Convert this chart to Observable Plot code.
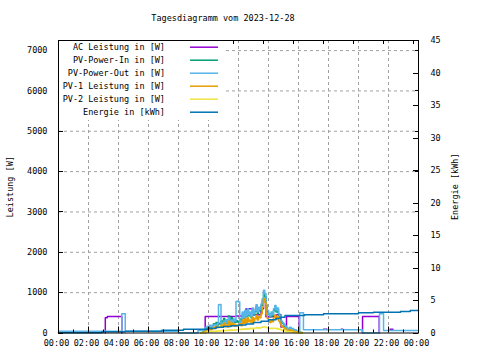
<!DOCTYPE html>
<html><head><meta charset="utf-8">
<script src="https://cdn.jsdelivr.net/npm/d3@7"></script>
<script src="https://cdn.jsdelivr.net/npm/@observablehq/plot@0.6"></script>
<style>
body{margin:0;background:#fff;}
#wrap{position:relative;width:480px;height:360px;font-family:"DejaVu Sans Mono",monospace;font-size:8.5px;color:#000;}
#title{position:absolute;left:0;width:446px;top:13px;line-height:10px;text-align:center;}
#legend{position:absolute;left:0;top:0;}
#chart{position:absolute;left:0;top:0;}
</style>
</head><body>
<div id="wrap"><div id="chart"></div><div id="title"></div><svg id="legend" width="480" height="130"></svg></div>
<script>
const titleText = "Tagesdiagramm vom 2023-12-28";
const seriesNames = ["AC Leistung in [W]","PV-Power-In in [W]","PV-Power-Out in [W]","PV-1 Leistung in [W]","PV-2 Leistung in [W]","Energie in [kWh]"];
const seriesColors = ["#9400d3","#009e73","#56b4e9","#e69f00","#f0e442","#0072b2"];
const yLabel = "Leistung [W]";
const y2Label = "Energie [kWh]";

const xTicks = [0,2,4,6,8,10,12,14,16,18,20,22,24];
const xLabels = ["00:00","02:00","04:00","06:00","08:00","10:00","12:00","14:00","16:00","18:00","20:00","22:00","00:00"];
const wTicks = [0,1000,2000,3000,4000,5000,6000,7000];
const kwhTicks = [0,5,10,15,20,25,30,35,40,45];
const wMax = 7250;
const kwhMax = 45;

// AC Leistung (NaN = no data)
const acTime = [3.12,3.12,3.25,4.22,4.22,4.23, 9.78,9.78,11.83,12.5,13.0,13.5,13.67,13.83,14.5,14.83,15.2,16.05,16.05,16.06, 17.67,17.9,17.91, 18.85,18.95,18.96, 20.27,20.27,21.38,21.38,21.39, 22.1,22.3,22.31];
const acW    = [0,380,410,410,0,NaN, 0,410,420,600,450,600,800,400,450,150,410,410,0,NaN, 90,90,NaN, 90,90,NaN, 0,410,410,0,NaN, 90,90,NaN];

// solar period, 5-minute samples from 09:30 to 16:15
const solarStart = 9.5;
const pvIn = [0,20,40,80,110,140,
 130,170,140,180,230,190,260,200,240,220,300,240,
 360,250,300,240,420,300,380,280,330,260,310,270,
 290,350,280,480,360,520,400,560,430,480,380,580,
 450,540,650,480,600,550,680,800,970,900,650,520,
 450,400,480,420,560,640,520,580,450,390,280,240,
 200,160,130,110,90,130,80,100,60,70,50,40,
 30,20,10,0];
const pvOutSolar = [60,70,80,120,150,170,
 160,190,150,200,180,210,190,230,700,706,230,250,
 300,220,330,260,380,280,320,250,350,300,780,790,
 770,250,300,520,380,560,420,600,450,520,400,620,
 480,560,700,520,640,580,720,850,1060,980,700,560,
 480,420,520,450,600,680,560,620,480,420,300,260,
 220,180,140,120,100,140,90,110,70,80,60,50,
 40,500,500,500];
const pv1 = [0,10,20,40,60,80,
 70,100,80,110,150,120,170,130,150,140,200,150,
 250,160,200,150,290,190,250,180,220,170,200,180,
 190,230,180,320,240,350,260,380,280,320,250,390,
 300,360,440,320,400,380,480,640,850,760,480,360,
 300,260,320,280,380,440,350,400,300,250,180,150,
 130,100,80,70,60,80,50,60,40,40,30,20,
 15,10,0,0];
const pv2 = [0,5,10,15,20,25,
 30,35,30,40,45,40,50,45,55,50,60,55,
 65,55,70,60,75,65,80,70,75,70,80,75,
 85,90,80,100,90,105,95,110,100,115,105,120,
 110,125,135,120,130,125,140,145,155,150,135,125,
 120,110,120,110,115,120,105,110,95,90,75,65,
 55,50,40,35,30,30,25,20,15,15,10,5,
 0,0,0,0];
// PV-Power-Out outside the solar period
const pvOutBeforeTime = [0,4.22,4.45,8.0,9.3];
const pvOutBeforeW    = [45,476,45,0,60];
const pvOutAfterTime  = [16.33,20.25,21.4,21.67,24];
const pvOutAfterW     = [80,0,476,62,62];

// Energie (kWh)
const eTime = [0,2.9,4.45,6.9,8.33,10.0,10.5,11.0,11.5,12.0,12.5,13.0,13.5,14.0,14.5,14.8,15.1,16.4,17.67,20.0,21.0,22.8,23.45,24];
const eKWh  = [0.03,0.18,0.28,0.43,0.58,0.7,0.9,1.0,1.1,1.25,1.4,1.6,1.8,2.03,2.25,2.43,2.69,2.8,2.95,3.11,3.2,3.31,3.46,3.46];

const k = wMax / kwhMax;
const solarTime = pvIn.map((_, i) => solarStart + i / 12);
const pvOutTime = [...pvOutBeforeTime, ...solarTime, ...pvOutAfterTime];
const pvOutW = [...pvOutBeforeW, ...pvOutSolar, ...pvOutAfterW];
const eW = eKWh.map(v => v * k);

const font = {fontFamily: "DejaVu Sans Mono, monospace", fontSize: "8.5px", color: "#000", background: "#fff", overflow: "visible"};
const sw = 1.5;
const grid = {stroke: "#a0a0a0", strokeDasharray: "3,3", strokeWidth: 1, strokeOpacity: 1};

const chart = Plot.plot({
  width: 480, height: 360,
  marginLeft: 58, marginRight: 62, marginTop: 40, marginBottom: 27.5,
  style: font,
  x: {domain: [0, 24]},
  y: {domain: [0, wMax]},
  marks: [
    Plot.ruleX(xTicks.slice(1, -1), grid),
    Plot.ruleY(wTicks.slice(1), grid),
    Plot.line(acTime, {x: acTime, y: acW, curve: "step-after", stroke: seriesColors[0], strokeWidth: sw}),
    Plot.line(solarTime, {x: solarTime, y: pvIn, curve: "step-after", stroke: seriesColors[1], strokeWidth: sw}),
    Plot.line(pvOutTime, {x: pvOutTime, y: pvOutW, curve: "step-after", stroke: seriesColors[2], strokeWidth: sw}),
    Plot.line(solarTime, {x: solarTime, y: pv1, curve: "step-after", stroke: seriesColors[3], strokeWidth: sw}),
    Plot.line(solarTime, {x: solarTime, y: pv2, curve: "step-after", stroke: seriesColors[4], strokeWidth: sw}),
    Plot.line(eTime, {x: eTime, y: eW, curve: "step-after", stroke: seriesColors[5], strokeWidth: sw}),
    Plot.frame({stroke: "#000", strokeWidth: 1}),
    Plot.axisX(xTicks, {tickSize: 0, tickPadding: 7, dx: -2, tickFormat: d => xLabels[xTicks.indexOf(d)], label: null}),
    Plot.axisY(wTicks, {anchor: "left", tickSize: 0, tickPadding: 11, tickFormat: d => String(d), label: yLabel, labelAnchor: "center", labelArrow: "none", labelOffset: 52}),
    Plot.axisY(kwhTicks.map(v => v * k), {anchor: "right", tickSize: 0, tickPadding: 12, tickFormat: d => String(Math.round(d / k)), label: y2Label, labelAnchor: "center", labelArrow: "none", labelOffset: 39})
  ]
});
document.getElementById("chart").appendChild(chart);
document.getElementById("title").textContent = titleText;

// inward tick marks (gnuplot style) using Plot's scales
const sx = chart.scale("x"), sy = chart.scale("y");
const svg = d3.select(chart);
const x0 = sx.apply(0), x1 = sx.apply(24), y0 = sy.apply(0), y1 = sy.apply(wMax);
const tg = svg.append("g").attr("stroke", "#000").attr("stroke-width", 1);
wTicks.forEach(w => {
  const y = Math.round(sy.apply(w)) + 0.5;
  tg.append("line").attr("x1", x0).attr("x2", x0 + 5).attr("y1", y).attr("y2", y);
  tg.append("line").attr("x1", x1).attr("x2", x1 - 3).attr("y1", y).attr("y2", y);
});
kwhTicks.forEach(v => {
  const y = Math.round(sy.apply(v * k)) + 0.5;
  tg.append("line").attr("x1", x1).attr("x2", x1 - 5).attr("y1", y).attr("y2", y);
});
d3.range(0, 25).forEach(h => {
  const x = Math.round(sx.apply(h)) + 0.5;
  const len = h % 2 === 0 ? 6 : 3;
  tg.append("line").attr("x1", x).attr("x2", x).attr("y1", y0).attr("y2", y0 - len);
});
xTicks.slice(1).forEach(h => {
  const x = Math.round(sx.apply(h - 1/3)) + 0.5;
  tg.append("line").attr("x1", x).attr("x2", x).attr("y1", y1).attr("y2", y1 + 4);
});

// opaque key (gnuplot "set key opaque")
const lg = d3.select("#legend");
lg.append("rect").attr("x", 59).attr("y", 41).attr("width", 166).attr("height", 79).attr("fill", "#fff");
seriesNames.forEach((name, i) => {
  const cy = 46.7 + 13 * i;
  lg.append("text").attr("x", 165).attr("y", cy).attr("dy", "0.35em").attr("text-anchor", "end")
    .attr("font-family", "DejaVu Sans Mono, monospace").attr("font-size", "8.5px").text(name);
  lg.append("line").attr("x1", 190).attr("x2", 218).attr("y1", cy + 0.5).attr("y2", cy + 0.5)
    .attr("stroke", seriesColors[i]).attr("stroke-width", 1.5);
});
</script>
</body></html>
